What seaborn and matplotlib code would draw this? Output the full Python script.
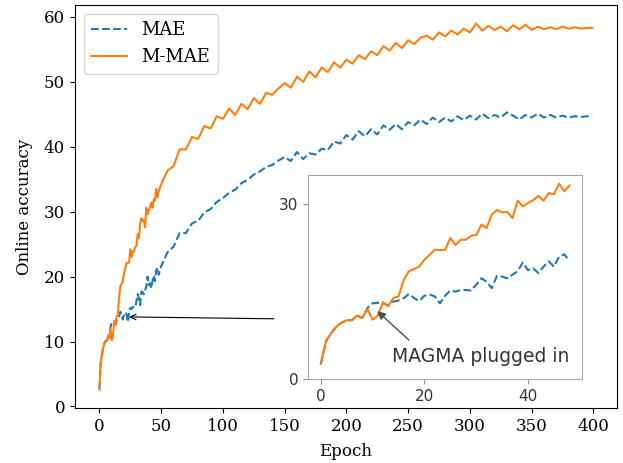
import matplotlib
matplotlib.use("Agg")
import matplotlib.pyplot as plt
import seaborn as sns
import numpy as np
import pandas as pd

# ---- data ----
epochs_early = list(range(0, 49))
mmae_early = [2.6, 6.5, 7.9, 9.0, 9.7, 10.1, 10.1, 10.9, 10.5, 12.0,
              10.2, 10.9, 13.2, 12.5, 13.9, 14.2, 17.0, 18.5, 18.9, 19.3,
              20.5, 21.3, 22.2, 22.1, 22.2, 24.2, 23.0, 23.9, 23.9, 24.6,
              24.7, 26.5, 25.9, 28.2, 29.0, 28.6, 28.7, 27.6, 30.6, 29.6,
              30.2, 30.7, 31.4, 30.6, 31.9, 31.7, 33.5, 32.2, 33.2]
mae_after_plugin = [12.2,
                    13.0, 13.1, 13.0, 12.7, 13.3, 13.5, 13.9, 14.6, 13.9, 13.4,
                    14.3, 14.5, 14.2, 13.0, 14.3, 15.2, 15.0, 15.3, 15.3, 15.2,
                    16.2, 17.3, 16.7, 15.6, 17.7, 17.6, 17.3, 17.9, 18.5, 20.0,
                    18.7, 19.0, 18.2, 19.3, 20.2, 19.3, 21.0, 21.4, 20.3]
plugin_epoch = 9
mae_early = mmae_early[:plugin_epoch] + mae_after_plugin

epochs_late = list(range(50, 400, 5)) + [399]
mmae_late = [34.2, 36.3, 37.0, 39.6, 39.6, 41.5, 41.2, 43.2, 42.8, 44.7,
             44.3, 45.9, 44.9, 46.6, 45.8, 47.5, 46.6, 48.3, 48.0, 49.0,
             49.8, 49.1, 50.8, 50.0, 51.6, 50.7, 52.2, 51.5, 53.0, 52.2,
             53.4, 52.8, 54.1, 53.5, 54.7, 54.1, 55.5, 54.8, 56.0, 55.2,
             56.4, 55.8, 56.8, 57.1, 56.5, 57.6, 57.0, 57.9, 57.3, 58.2,
             57.6, 59.0, 57.9, 58.6, 58.0, 58.5, 57.8, 58.7, 58.1, 58.8,
             58.0, 58.5, 58.1, 58.4, 58.1, 58.5, 58.2, 58.4, 58.2, 58.3,
             58.3]
mae_late = [21.6, 23.7, 24.6, 26.7, 26.7, 28.2, 28.6, 29.9, 30.4, 31.5,
            32.1, 32.9, 33.4, 34.4, 34.9, 35.7, 36.2, 36.9, 37.2, 37.9,
            38.4, 37.8, 39.2, 38.1, 39.0, 38.8, 39.7, 39.5, 40.8, 40.5,
            41.8, 41.1, 42.4, 41.6, 42.7, 41.9, 43.3, 42.6, 43.5, 42.7,
            43.8, 43.3, 44.2, 43.5, 44.5, 43.8, 44.5, 43.9, 44.7, 44.1,
            44.8, 44.2, 45.1, 44.4, 44.9, 44.5, 45.3, 44.8, 44.2, 44.9,
            44.5, 45.1, 44.5, 44.9, 44.5, 44.8, 44.5, 44.7, 44.6, 44.7,
            44.7]

series_names = ["MAE", "M-MAE"]
inset_xticks = [0, 20, 40]
inset_yticks = [0, 30]
annotation_text = "MAGMA plugged in"

# ---- build frames ----
epochs_all = epochs_early + epochs_late
df_mae = pd.DataFrame({"Epoch": epochs_all, "acc": mae_early + mae_late})
df_mmae = pd.DataFrame({"Epoch": epochs_all, "acc": mmae_early + mmae_late})
df_mae_in = pd.DataFrame({"Epoch": epochs_early, "acc": mae_early})
df_mmae_in = pd.DataFrame({"Epoch": epochs_early, "acc": mmae_early})

plt.rcParams["font.family"] = ["DejaVu Serif"]
blue, orange = "#1f77b4", "#ff7f0e"

fig = plt.figure(figsize=(6.23, 4.63), dpi=100)
ax = fig.add_axes([0.120, 0.119, 0.870, 0.870])

sns.lineplot(data=df_mae, x="Epoch", y="acc", ax=ax, color=blue,
             linestyle="--", linewidth=1.5, label=series_names[0])
sns.lineplot(data=df_mmae, x="Epoch", y="acc", ax=ax, color=orange,
             linewidth=1.5, label=series_names[1])
ax.set_xlabel("Epoch", fontsize=12, labelpad=6)
ax.set_ylabel("Online accuracy", fontsize=12, labelpad=8)
ax.tick_params(labelsize=12)
ax.set_xticks(range(0, 401, 50))
ax.set_yticks(range(0, 61, 10))
leg = ax.legend(loc="upper left", fontsize=13, handlelength=2.0)

ax.annotate("", xy=(21.9, 13.8), xytext=(143.5, 13.5),
            arrowprops=dict(arrowstyle="->", color="black", lw=0.8))

# ---- inset ----
axin = fig.add_axes([0.495, 0.181, 0.439, 0.441])
sns.lineplot(data=df_mae_in, x="Epoch", y="acc", ax=axin, color=blue,
             linestyle="--", linewidth=1.5)
sns.lineplot(data=df_mmae_in, x="Epoch", y="acc", ax=axin, color=orange,
             linewidth=1.5)
axin.set_ylim(0, 35)
axin.set_xticks(inset_xticks)
axin.set_yticks(inset_yticks)
axin.set_xlabel("")
axin.set_ylabel("")
for s in axin.spines.values():
    s.set_color("0.65")
axin.tick_params(colors="0.55", labelcolor="0.2", labelsize=11)
for lab in axin.get_xticklabels() + axin.get_yticklabels():
    lab.set_family("DejaVu Sans")
axin.annotate("", xy=(10.5, 12.0), xytext=(17.4, 6.4),
              arrowprops=dict(arrowstyle="-|>", color="0.3", lw=1,
                              mutation_scale=12))
axin.text(13.7, 3.0, annotation_text, family="DejaVu Sans", fontsize=13.5,
          color="0.2", ha="left", va="baseline")

fig.savefig("out.png", dpi=100)
